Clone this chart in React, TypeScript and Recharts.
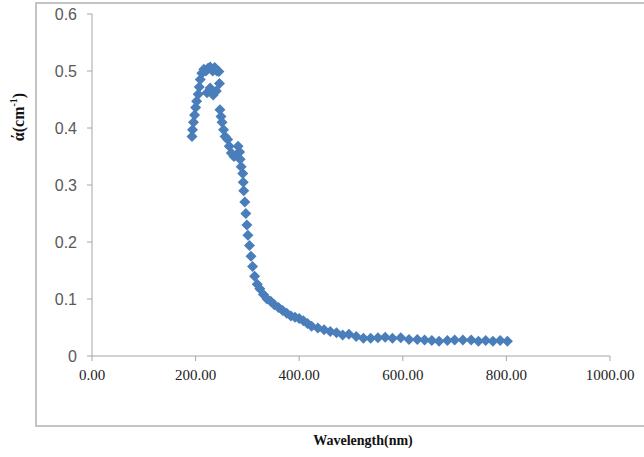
import React from 'react';
import { ScatterChart, Scatter, XAxis, YAxis } from 'recharts';

const wavelength = [
  193, 194, 196, 198, 200, 202, 205, 207, 209, 212, 216, 220, 224, 228, 233, 237, 241, 245,
  222, 228, 234, 240, 246, 247, 249, 251, 254, 257, 262, 265, 269, 274, 278, 282, 285, 286,
  288, 291, 292, 293, 295, 297, 299, 301, 304, 307, 310, 314, 319, 324, 331, 338, 345, 352,
  360, 368, 376, 384, 392, 400, 408, 416, 424, 436, 448, 460, 472, 484, 496, 510, 524, 538,
  552, 566, 580, 596, 612, 628, 642, 656, 670, 686, 700, 716, 732, 746, 760, 774, 788, 802,
];
const alpha = [
  0.385, 0.397, 0.41, 0.423, 0.436, 0.447, 0.459, 0.472, 0.485, 0.496, 0.503, 0.5, 0.505, 0.507, 0.5, 0.506, 0.5, 0.499,
  0.462, 0.47, 0.458, 0.465, 0.478, 0.432, 0.42, 0.41, 0.397, 0.385, 0.38, 0.368, 0.356, 0.35, 0.352, 0.368, 0.358, 0.345,
  0.332, 0.32, 0.305, 0.29, 0.27, 0.25, 0.23, 0.212, 0.194, 0.175, 0.157, 0.14, 0.126, 0.118, 0.108, 0.1, 0.096, 0.09,
  0.085, 0.08, 0.075, 0.07, 0.068, 0.066, 0.062, 0.057, 0.052, 0.049, 0.046, 0.043, 0.041, 0.037, 0.038, 0.034, 0.031, 0.031,
  0.032, 0.033, 0.031, 0.032, 0.029, 0.029, 0.028, 0.027, 0.026, 0.027, 0.028, 0.028, 0.028, 0.026, 0.027, 0.026, 0.027, 0.026,
];
const xTicks = [0, 200, 400, 600, 800, 1000];
const yTicks = [0, 0.1, 0.2, 0.3, 0.4, 0.5, 0.6];

const data = wavelength.map((w, i) => ({ w, a: alpha[i] }));

const Diamond = (props: any) => {
  const { cx, cy } = props;
  if (cx == null || cy == null) return null;
  const r = 5.5;
  return (
    <polygon
      points={`${cx},${cy - r} ${cx + r},${cy} ${cx},${cy + r} ${cx - r},${cy}`}
      fill="#4A7EBB"
    />
  );
};

export default function App() {
  return (
    <div style={{ position: 'absolute', left: 0, top: 0, width: 644, height: 457, background: '#fff', overflow: 'hidden' }}>
      <div
        style={{
          position: 'absolute',
          left: 35,
          top: 2,
          width: 609,
          height: 425,
          boxSizing: 'border-box',
          border: '2px solid #c4c4c4',
          borderRight: 'none',
        }}
      />
      <div style={{ position: 'absolute', left: 0, top: 0 }}>
        <ScatterChart width={644} height={457} margin={{ top: 14, right: 34, bottom: 71, left: 0 }}>
          <XAxis
            type="number"
            dataKey="w"
            domain={[0, 1000]}
            ticks={xTicks}
            tickFormatter={(v: number) => v.toFixed(2)}
            height={30}
            stroke="#a6a6a6"
            tickSize={5}
            tickMargin={8}
            tick={{ fill: '#222', fontSize: 15, fontFamily: '"Liberation Serif", serif' }}
            interval={0}
          />
          <YAxis
            type="number"
            dataKey="a"
            domain={[0, 0.6]}
            ticks={yTicks}
            width={92}
            stroke="#a6a6a6"
            tickSize={5}
            tickMargin={10}
            tick={{ fill: '#595959', fontSize: 16, fontFamily: '"Liberation Sans", Arial, sans-serif' }}
            interval={0}
          />
          <Scatter data={data} shape={<Diamond />} isAnimationActive={false} />
        </ScatterChart>
      </div>
      <div
        style={{
          position: 'absolute',
          left: 18,
          top: 117,
          transform: 'translate(-50%, -50%) rotate(-90deg)',
          fontFamily: '"Liberation Serif", serif',
          fontWeight: 'bold',
          fontSize: 16,
          whiteSpace: 'nowrap',
          color: '#111',
        }}
      >
        ά(cm<sup style={{ fontSize: 10 }}>-1</sup>)
      </div>
      <div
        style={{
          position: 'absolute',
          left: 363,
          top: 441,
          transform: 'translate(-50%, -50%)',
          fontFamily: '"Liberation Serif", serif',
          fontWeight: 'bold',
          fontSize: 14,
          whiteSpace: 'nowrap',
          color: '#111',
        }}
      >
        Wavelength(nm)
      </div>
    </div>
  );
}
